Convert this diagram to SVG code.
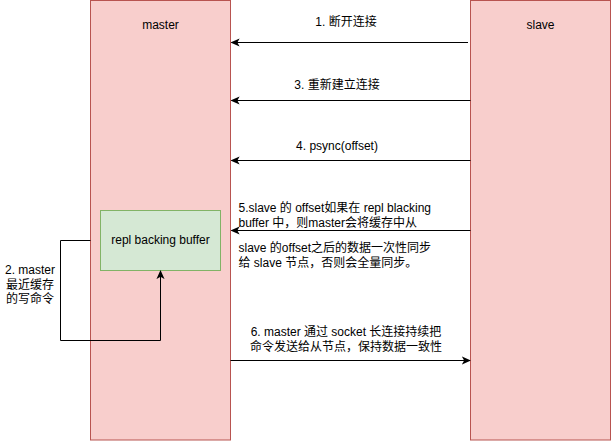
<svg xmlns="http://www.w3.org/2000/svg" width="612" height="441" viewBox="0 0 612 441">
<style>
.lane{fill:#f8cecc;stroke:#b85450;stroke-width:1}
.buf{fill:#d5e8d4;stroke:#82b366;stroke-width:1}
.t{font-family:"Liberation Sans","Noto Sans CJK SC",Arial,sans-serif;font-size:12px;fill:#000}
.c{stroke:#000;stroke-width:1;fill:none}
</style>
<defs>
<marker id="ah" viewBox="0 0 10 10" refX="9" refY="5" markerWidth="9" markerHeight="9" markerUnits="userSpaceOnUse" orient="auto">
<path d="M0,0.5 L10,5 L0,9.5 L2.5,5 Z" fill="#000"/>
</marker>
</defs>
<rect width="612" height="441" fill="#fff"/>
<g id="master">
<rect class="lane" x="90.5" y="0.5" width="140" height="439.5"/>
<text class="t" x="160.5" y="29" text-anchor="middle">master</text>
</g>
<g id="slave">
<rect class="lane" x="470.5" y="0.5" width="140" height="439.5"/>
<text class="t" x="540.5" y="29" text-anchor="middle">slave</text>
</g>
<g id="buffer">
<rect class="buf" x="100.5" y="210.5" width="120" height="60"/>
<text class="t" x="160.5" y="244" text-anchor="middle">repl backing buffer</text>
</g>
<g id="connectors">
<path class="c" d="M468,42.5 H231.5" marker-end="url(#ah)"/>
<path class="c" d="M470.5,100.5 H231.5" marker-end="url(#ah)"/>
<path class="c" d="M470.5,160.5 H231.5" marker-end="url(#ah)"/>
<path class="c" d="M470.5,230.5 H231.5" marker-end="url(#ah)"/>
<path class="c" d="M230.5,360.5 H470" marker-end="url(#ah)"/>
<path class="c" d="M90.5,240.5 H60.5 V340.5 H160.5 V271" marker-end="url(#ah)"/>
</g>
<g id="labels">
<text class="t" x="346" y="26" text-anchor="middle">1. 断开连接</text>
<text class="t" x="337" y="89" text-anchor="middle">3. 重新建立连接</text>
<text class="t" x="337" y="150" text-anchor="middle">4. psync(offset)</text>
<text class="t" x="238.5" y="212">5.slave 的 offset如果在 repl blacking</text>
<text class="t" x="238.5" y="227">buffer 中，则master会将缓存中从</text>
<text class="t" x="238.5" y="252">slave 的offset之后的数据一次性同步</text>
<text class="t" x="238.5" y="267">给 slave 节点，否则会全量同步。</text>
<text class="t" x="346" y="336" text-anchor="middle">6. master 通过 socket 长连接持续把</text>
<text class="t" x="346" y="351" text-anchor="middle">命令发送给从节点，保持数据一致性</text>
<text class="t" x="30" y="274" text-anchor="middle">2. master</text>
<text class="t" x="30" y="289" text-anchor="middle">最近缓存</text>
<text class="t" x="30" y="303" text-anchor="middle">的写命令</text>
</g>
</svg>
